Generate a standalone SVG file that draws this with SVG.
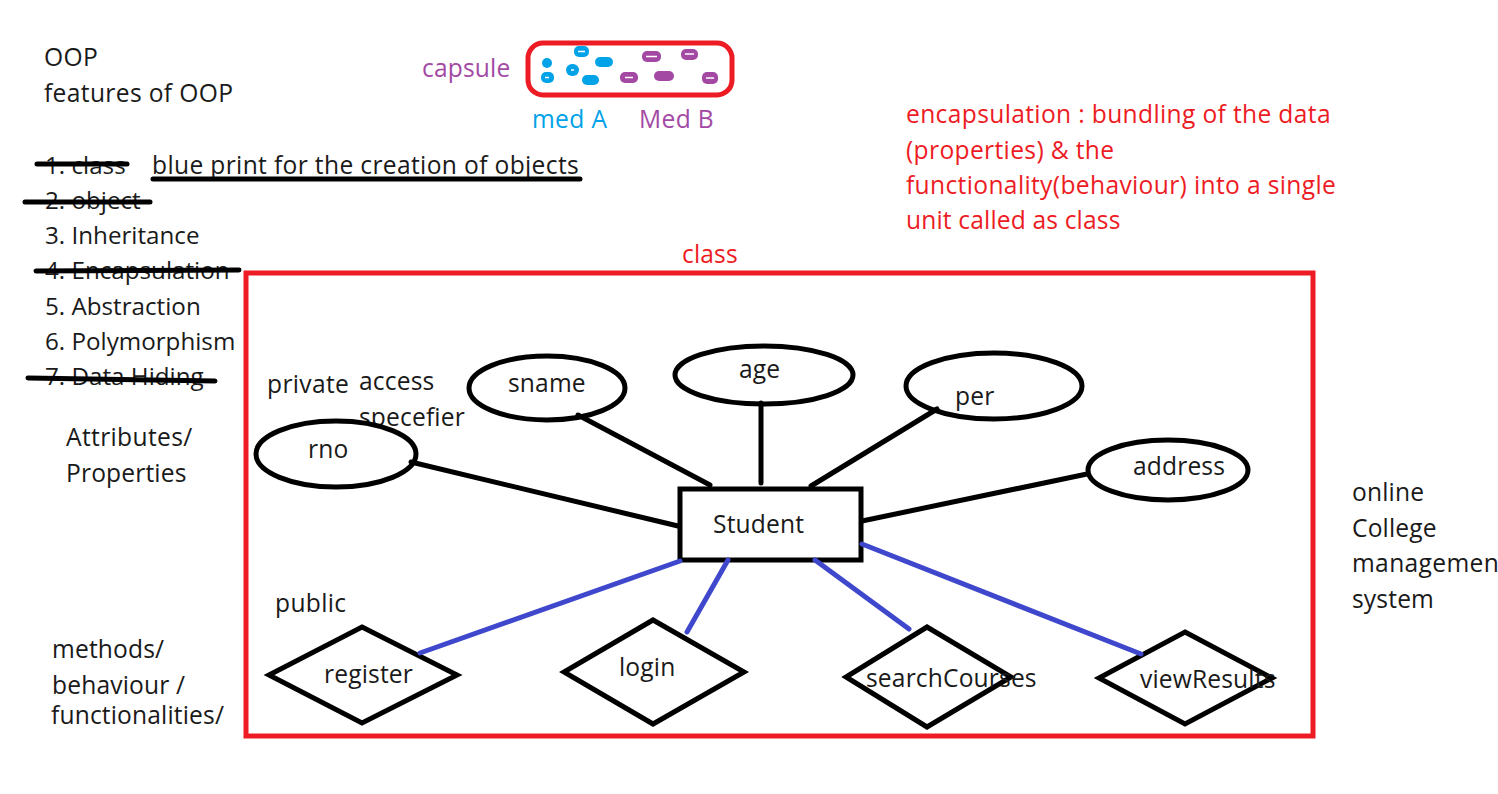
<svg xmlns="http://www.w3.org/2000/svg" width="1498" height="794" viewBox="0 0 1498 794">
<style>
text{font-family:"Open Sans","Noto Sans","Liberation Sans",sans-serif;font-size:24.6px;letter-spacing:.15px;fill:#1a1a1a}
.w{letter-spacing:.35px}
.t{letter-spacing:0;font-size:24.2px}
.r{fill:#ed1c24}.p{fill:#a349a4}.b{fill:#00a2e8}
.k{fill:none;stroke:#000;stroke-width:5;stroke-linecap:round}
.s{fill:#fff;stroke:#000;stroke-width:5}
.u{fill:none;stroke:#3f48cc;stroke-width:5;stroke-linecap:round}
.m{stroke:#fff;stroke-width:1.5}
</style>
<rect width="1498" height="794" fill="#fff"/>
<g id="notes">
<text class="w" x="44" y="66">OOP</text>
<text class="w" x="44" y="102">features of OOP</text>
<text class="t" x="45" y="174">1. class</text>
<text class="w" x="152" y="174">blue print for the creation of objects</text>
<text class="t" x="45" y="209">2. object</text>
<text class="t" x="45" y="244">3. Inheritance</text>
<text class="t" x="45" y="279">4. Encapsulation</text>
<text class="t" x="45" y="315">5. Abstraction</text>
<text class="t" x="45" y="350">6. Polymorphism</text>
<text class="t" x="45" y="385">7. Data Hiding</text>
<text class="w" x="66" y="446">Attributes/</text>
<text x="66" y="482">Properties</text>
<text x="52" y="658">methods/</text>
<text x="52" y="694">behaviour /</text>
<text x="51" y="724">functionalities/</text>
<text class="w" x="267" y="393">private</text>
<text x="359" y="390">access</text>
<text x="359" y="426">specefier</text>
<text class="w" x="275" y="612">public</text>
<text x="1352" y="501">online</text>
<text x="1352" y="537">College</text>
<text class="w" x="1352" y="572">managemen</text>
<text x="1352" y="608">system</text>
<text class="p" x="422" y="77">capsule</text>
<text class="b w" x="532" y="128">med A</text>
<text class="p w" x="639" y="128">Med B</text>
<text class="r w" x="906" y="123">encapsulation : bundling of the data</text>
<text class="r w" x="906" y="159">(properties) &amp; the</text>
<text class="r w" x="906" y="194">functionality(behaviour) into a single</text>
<text class="r" x="906" y="229">unit called as class</text>
<text class="r" x="682" y="263">class</text>
</g>
<g id="capsule">
<rect x="528" y="43" width="204" height="52" rx="15" fill="none" stroke="#ed1c24" stroke-width="5"/>
<g class="b">
<rect x="574" y="46" width="15" height="11" rx="5"/><rect x="542" y="58" width="10" height="10" rx="5"/><rect x="595" y="57" width="18" height="10" rx="5"/><rect x="541" y="72" width="13" height="11" rx="5"/><rect x="566" y="64" width="13" height="12" rx="6"/><rect x="582" y="75" width="17" height="10" rx="5"/>
</g>
<g class="p">
<rect x="642" y="51" width="19" height="11" rx="5"/><rect x="681" y="49" width="17" height="11" rx="5"/><rect x="620" y="72" width="18" height="11" rx="5"/><rect x="654" y="71" width="20" height="10" rx="5"/><rect x="702" y="72" width="16" height="12" rx="5"/>
</g>
<path class="m" d="M578 51.500H585M545 77.500H549M571 70H574M646 56.500H657M685 54H694M625 77.500H633M706 78H714"/>
</g>
<g id="class-box"><rect x="246" y="273" width="1067" height="463" fill="none" stroke="#ed1c24" stroke-width="5"/></g>
<g id="student"><rect class="s" x="680" y="489" width="181" height="71"/><text x="713" y="533">Student</text></g>
<g id="rno"><ellipse class="s" cx="336" cy="454" rx="80" ry="33"/><text x="308" y="458">rno</text></g>
<g id="sname"><ellipse class="s" cx="547" cy="388" rx="78" ry="32"/><text x="508" y="392">sname</text></g>
<g id="age"><ellipse class="s" cx="764" cy="375" rx="89" ry="29"/><text x="739" y="378">age</text></g>
<g id="per"><ellipse class="s" cx="994" cy="386" rx="88" ry="33"/><text x="955" y="405">per</text></g>
<g id="address"><ellipse class="s" cx="1168" cy="470" rx="80" ry="30"/><text x="1133" y="475">address</text></g>
<g id="register"><path class="s" d="M362 627L457 675L362 723L269 675Z"/><text x="324" y="683">register</text></g>
<g id="login"><path class="s" d="M653 620L744 672L653 724L564 672Z"/><text x="619" y="676">login</text></g>
<g id="searchCourses"><path class="s" d="M927 627L1011 677L927 727L846 677Z"/><text x="866" y="687">searchCourses</text></g>
<g id="viewResults"><path class="s" d="M1185 632L1272 678L1185 724L1099 678Z"/><text x="1140" y="688">viewResults</text></g>
<g id="connectors">
<path class="k" d="M411 462L678 526M578 415L710 485M761 403V483M937 409L811 486M1087 474L862 521"/>
<path class="u" d="M680 561L420 653M728 560L687 632M815 560L909 629M862 544L1141 654"/>
</g>
<g id="strikes">
<path class="k" d="M37 164H127M25 202H150M36 271L239 270M28 378L215 381M153 179H580"/>
</g>
</svg>
